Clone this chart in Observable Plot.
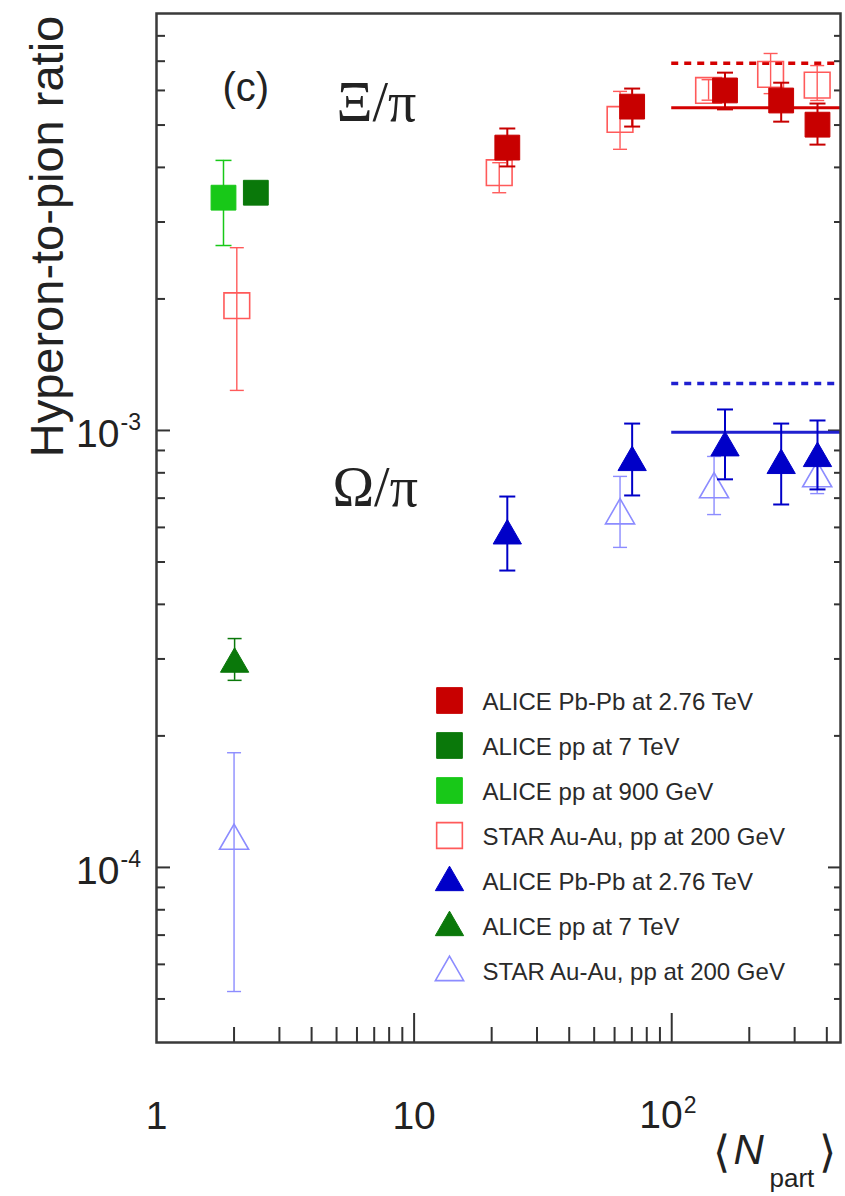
<!DOCTYPE html>
<html><head><meta charset="utf-8">
<script src="https://cdn.jsdelivr.net/npm/d3@7"></script>
<script src="https://cdn.jsdelivr.net/npm/@observablehq/plot@0.6"></script>
<style>body{margin:0;background:#fff} svg{display:block}</style>
</head><body><div id="chart"></div>
<script>
// ---------- data ----------
// Xi/pi
const npartAlice = [23.0, 70.2, 161, 266, 368];
const xiAlicePbPb   = [4.44e-3, 5.51e-3, 6.00e-3, 5.69e-3, 5.01e-3];
const xiAlicePbPbLo = [4.02e-3, 4.96e-3, 5.43e-3, 5.09e-3, 4.51e-3];
const xiAlicePbPbHi = [4.91e-3, 6.06e-3, 6.59e-3, 6.25e-3, 5.60e-3];
const npartStarXi = [2.05, 21.4, 63, 139, 242, 367];
const xiStar   = [1.93e-3, 3.89e-3, 5.15e-3, 6.00e-3, 6.53e-3, 6.17e-3];
const xiStarLo = [1.235e-3, 3.50e-3, 4.40e-3, 5.70e-3, 5.90e-3, 5.69e-3];
const xiStarHi = [2.62e-3, 4.10e-3, 5.97e-3, 6.35e-3, 7.29e-3, 6.84e-3];
const npartPP900 = [1.82];
const xiPP900 = [3.41e-3], xiPP900Lo = [2.65e-3], xiPP900Hi = [4.15e-3];
const npartPP7Xi = [2.43];
const xiPP7 = [3.50e-3], xiPP7Lo = [3.42e-3], xiPP7Hi = [3.58e-3];
// Omega/pi
const omAlicePbPb   = [5.74e-4, 8.45e-4, 9.13e-4, 8.32e-4, 8.63e-4];
const omAlicePbPbLo = [4.78e-4, 7.10e-4, 7.73e-4, 6.77e-4, 7.33e-4];
const omAlicePbPbHi = [7.06e-4, 1.037e-3, 1.117e-3, 1.037e-3, 1.054e-3];
const npartStarOm = [2.0, 63, 146, 367];
const omStar   = [1.15e-4, 6.39e-4, 7.33e-4, 7.77e-4];
const omStarLo = [5.2e-5, 5.40e-4, 6.42e-4, 7.17e-4];
const omStarHi = [1.83e-4, 7.85e-4, 8.72e-4, 8.50e-4];
const npartPP7Om = [2.01];
const omPP7 = [2.92e-4], omPP7Lo = [2.68e-4], omPP7Hi = [3.34e-4];
// thermal model lines
const thermalX = [100, 452];
const thermalXi = [5.48e-3, 6.92e-3];   // solid, dashed
const thermalOm = [0.99e-3, 1.28e-3];   // solid, dashed

// axes
const xDomain = [1, 452];
const yDomain = [3.975e-5, 9.0e-3];
const xMajor = [10, 100];
const xMinor = [2,3,4,5,6,7,8,9,20,30,40,50,60,70,80,90,200,300,400];
const yMajor = [1e-4, 1e-3];
const yMinor = [5e-5,6e-5,7e-5,8e-5,9e-5,2e-4,3e-4,4e-4,5e-4,6e-4,7e-4,8e-4,9e-4,2e-3,3e-3,4e-3,5e-3,6e-3,7e-3,8e-3];
const xTickLabels = [{v: 1, t: "1"}, {v: 10, t: "10"}];
const xExpLabel = [{v: 100, base: "10", exp: "2"}];
const yTickLabels = [{v: 1e-3, base: "10", exp: "-3"}, {v: 1e-4, base: "10", exp: "-4"}];
const yTitle = "Hyperon-to-pion ratio";
const panelLabel = "(c)";
const xiLabel = "Ξ/π", omLabel = "Ω/π";

// legend
const legendLabels = ["ALICE Pb-Pb at 2.76 TeV","ALICE pp at 7 TeV","ALICE pp at 900 GeV","STAR Au-Au, pp at 200 GeV","ALICE Pb-Pb at 2.76 TeV","ALICE pp at 7 TeV","STAR Au-Au, pp at 200 GeV"];
const legendSymbols = ["square","square","square","square","triangle","triangle","triangle"];
const legendFilled = [true,true,true,false,true,true,false];

// colours
const cRed = "#c80000", cStarRed = "#ff5a5a", cDarkGreen = "#0a780a", cLightGreen = "#18c818",
      cBlue = "#0000c8", cStarBlue = "#8c8cff", cRedLine = "#d40000", cBlueLine = "#2020d0";
const legendColors = [cRed, cDarkGreen, cLightGreen, cStarRed, cBlue, cDarkGreen, cStarBlue];

// ---------- build ----------
const rows = (xs, ys, lo, hi) => xs.map((x, i) => ({x, y: ys[i], lo: lo[i], hi: hi[i]}));
const aliceXi = rows(npartAlice, xiAlicePbPb, xiAlicePbPbLo, xiAlicePbPbHi);
const starXi = rows(npartStarXi, xiStar, xiStarLo, xiStarHi);
const pp900Xi = rows(npartPP900, xiPP900, xiPP900Lo, xiPP900Hi);
const pp7Xi = rows(npartPP7Xi, xiPP7, xiPP7Lo, xiPP7Hi);
const aliceOm = rows(npartAlice, omAlicePbPb, omAlicePbPbLo, omAlicePbPbHi);
const starOm = rows(npartStarOm, omStar, omStarLo, omStarHi);
const pp7Om = rows(npartPP7Om, omPP7, omPP7Lo, omPP7Hi);

const W = 845, H = 1196, mL = 156, mR = 5, mT = 13, mB = 154;
const plotW = W - mL - mR, plotH = H - mT - mB;
const capSymbol = (hw) => ({draw(ctx) { ctx.moveTo(-hw, 0); ctx.lineTo(hw, 0); }});

function series(data, {color, symbol, filled, r, sw, cap = 8}) {
  return [
    Plot.ruleX(data, {x: "x", y1: "lo", y2: "hi", stroke: color, strokeWidth: sw}),
    Plot.dot(data, {x: "x", y: "lo", symbol: capSymbol(cap), fill: "none", stroke: color, strokeWidth: sw}),
    Plot.dot(data, {x: "x", y: "hi", symbol: capSymbol(cap), fill: "none", stroke: color, strokeWidth: sw}),
    Plot.dot(data, {x: "x", y: "y", symbol, r, fill: filled ? color : "none", stroke: color, strokeWidth: filled ? 1 : 1.6})
  ];
}

const tickColor = "#333";
const sans = "'Liberation Sans', Arial, Helvetica, sans-serif";
const serif = "'Liberation Serif', 'Times New Roman', serif";

const thermalRows = (ys) => [{y: ys[0], x1: thermalX[0], x2: thermalX[1]}, {y: ys[1], x1: thermalX[0], x2: thermalX[1]}];

const legendMarks = legendLabels.flatMap((label, i) => {
  const dy = 700 - mT + i * 45;
  const sq = legendSymbols[i] === "square";
  return [
    Plot.dot([label], {frameAnchor: "top-left", dx: 449 - mL, dy: dy + (sq ? 0 : 2), symbol: legendSymbols[i],
      r: sq ? 14.5 : 10.5, fill: legendFilled[i] ? legendColors[i] : "none", stroke: legendColors[i], strokeWidth: legendFilled[i] ? 1 : 1.6}),
    Plot.text([label], {text: d => d, frameAnchor: "top-left", dx: 482 - mL, dy: dy + 2, textAnchor: "start",
      lineAnchor: "middle", fontSize: 24, fill: "#2a2a2a"})
  ];
});

const chart = Plot.plot({
  width: W, height: H, marginLeft: mL, marginRight: mR, marginTop: mT, marginBottom: mB,
  x: {type: "log", domain: xDomain, axis: null},
  y: {type: "log", domain: yDomain, axis: null},
  style: {fontFamily: sans, background: "#fff", color: "#222"},
  marks: [
    // ticks (inward)
    Plot.ruleX(xMinor, {x: d => d, insetTop: plotH - 15, stroke: tickColor, strokeWidth: 2}),
    Plot.ruleX(xMajor, {x: d => d, insetTop: plotH - 29, stroke: tickColor, strokeWidth: 2}),
    Plot.ruleY(yMinor, {y: d => d, insetRight: plotW - 9, stroke: tickColor, strokeWidth: 2}),
    Plot.ruleY(yMajor, {y: d => d, insetRight: plotW - 14, stroke: tickColor, strokeWidth: 2}),
    Plot.ruleY(yMinor, {y: d => d, insetLeft: plotW - 6, stroke: tickColor, strokeWidth: 2}),
    Plot.ruleY(yMajor, {y: d => d, insetLeft: plotW - 12, stroke: tickColor, strokeWidth: 2}),
    // thermal lines
    Plot.ruleY(thermalRows(thermalXi).slice(0, 1), {y: "y", x1: "x1", x2: "x2", stroke: cRedLine, strokeWidth: 3}),
    Plot.ruleY(thermalRows(thermalXi).slice(1), {y: "y", x1: "x1", x2: "x2", stroke: cRedLine, strokeWidth: 3.5, strokeDasharray: "7,6"}),
    Plot.ruleY(thermalRows(thermalOm).slice(0, 1), {y: "y", x1: "x1", x2: "x2", stroke: cBlueLine, strokeWidth: 3}),
    Plot.ruleY(thermalRows(thermalOm).slice(1), {y: "y", x1: "x1", x2: "x2", stroke: cBlueLine, strokeWidth: 3.5, strokeDasharray: "7,6"}),
    // data
    ...series(starXi, {color: cStarRed, symbol: "square", filled: false, r: 14.5, sw: 1.4, cap: 7}),
    ...series(starOm, {color: cStarBlue, symbol: "triangle", filled: false, r: 10.8, sw: 1.4, cap: 7}),
    ...series(pp900Xi, {color: cLightGreen, symbol: "square", filled: true, r: 14, sw: 1.5}),
    ...series(pp7Xi, {color: cDarkGreen, symbol: "square", filled: true, r: 14, sw: 1.5}),
    ...series(pp7Om, {color: cDarkGreen, symbol: "triangle", filled: true, r: 10.5, sw: 1.5, cap: 7}),
    ...series(aliceXi, {color: cRed, symbol: "square", filled: true, r: 14, sw: 2}),
    ...series(aliceOm, {color: cBlue, symbol: "triangle", filled: true, r: 10.5, sw: 2}),
    // frame
    Plot.frame({stroke: "#3a3a3a", strokeWidth: 2.5}),
    // tick labels
    Plot.text(xTickLabels, {x: "v", text: "t", frameAnchor: "bottom", dy: 86, lineAnchor: "bottom", fontSize: 39}),
    Plot.text(xExpLabel, {x: "v", text: "base", frameAnchor: "bottom", dy: 85, dx: 11, textAnchor: "end", lineAnchor: "bottom", fontSize: 39}),
    Plot.text(xExpLabel, {x: "v", text: "exp", frameAnchor: "bottom", dy: 70, dx: 12, textAnchor: "start", lineAnchor: "bottom", fontSize: 23}),
    Plot.text(yTickLabels, {y: "v", text: "base", frameAnchor: "left", dx: -37, dy: 4, textAnchor: "end", lineAnchor: "middle", fontSize: 39}),
    Plot.text(yTickLabels, {y: "v", text: "exp", frameAnchor: "left", dx: -36, dy: 0, textAnchor: "start", lineAnchor: "bottom", fontSize: 23}),
    // axis titles
    Plot.text([yTitle], {text: d => d, frameAnchor: "top-left", dx: 62 - mL, dy: 236 - mT, rotate: -90, textAnchor: "middle", lineAnchor: "bottom", fontSize: 47}),
    Plot.text(["⟨"], {text: d => d, frameAnchor: "bottom-right", dx: 712 - (W - mR), dy: 1166 - (H - mB), textAnchor: "start", lineAnchor: "bottom", fontSize: 44, fontFamily: "'DejaVu Sans', sans-serif", fontWeight: 300}),
    Plot.text(["N"], {text: d => d, frameAnchor: "bottom-right", dx: 733 - (W - mR), dy: 1163 - (H - mB), textAnchor: "start", lineAnchor: "bottom", fontSize: 42, fontStyle: "italic"}),
    Plot.text(["part"], {text: d => d, frameAnchor: "bottom-right", dx: 769 - (W - mR), dy: 1186 - (H - mB), textAnchor: "start", lineAnchor: "bottom", fontSize: 26}),
    Plot.text(["⟩"], {text: d => d, frameAnchor: "bottom-right", dx: 818 - (W - mR), dy: 1166 - (H - mB), textAnchor: "start", lineAnchor: "bottom", fontSize: 44, fontFamily: "'DejaVu Sans', sans-serif", fontWeight: 300}),
    // in-plot labels
    Plot.text([panelLabel], {text: d => d, frameAnchor: "top-left", dx: 222 - mL, dy: 100 - mT, textAnchor: "start", lineAnchor: "bottom", fontSize: 40}),
    Plot.text([xiLabel], {text: d => d, frameAnchor: "top-left", dx: 336 - mL, dy: 120 - mT, textAnchor: "start", lineAnchor: "bottom", fontSize: 56, fontFamily: serif}),
    Plot.text([omLabel], {text: d => d, frameAnchor: "top-left", dx: 332 - mL, dy: 505 - mT, textAnchor: "start", lineAnchor: "bottom", fontSize: 56, fontFamily: serif}),
    // legend
    ...legendMarks
  ]
});
document.getElementById("chart").append(chart);
</script>
</body></html>
